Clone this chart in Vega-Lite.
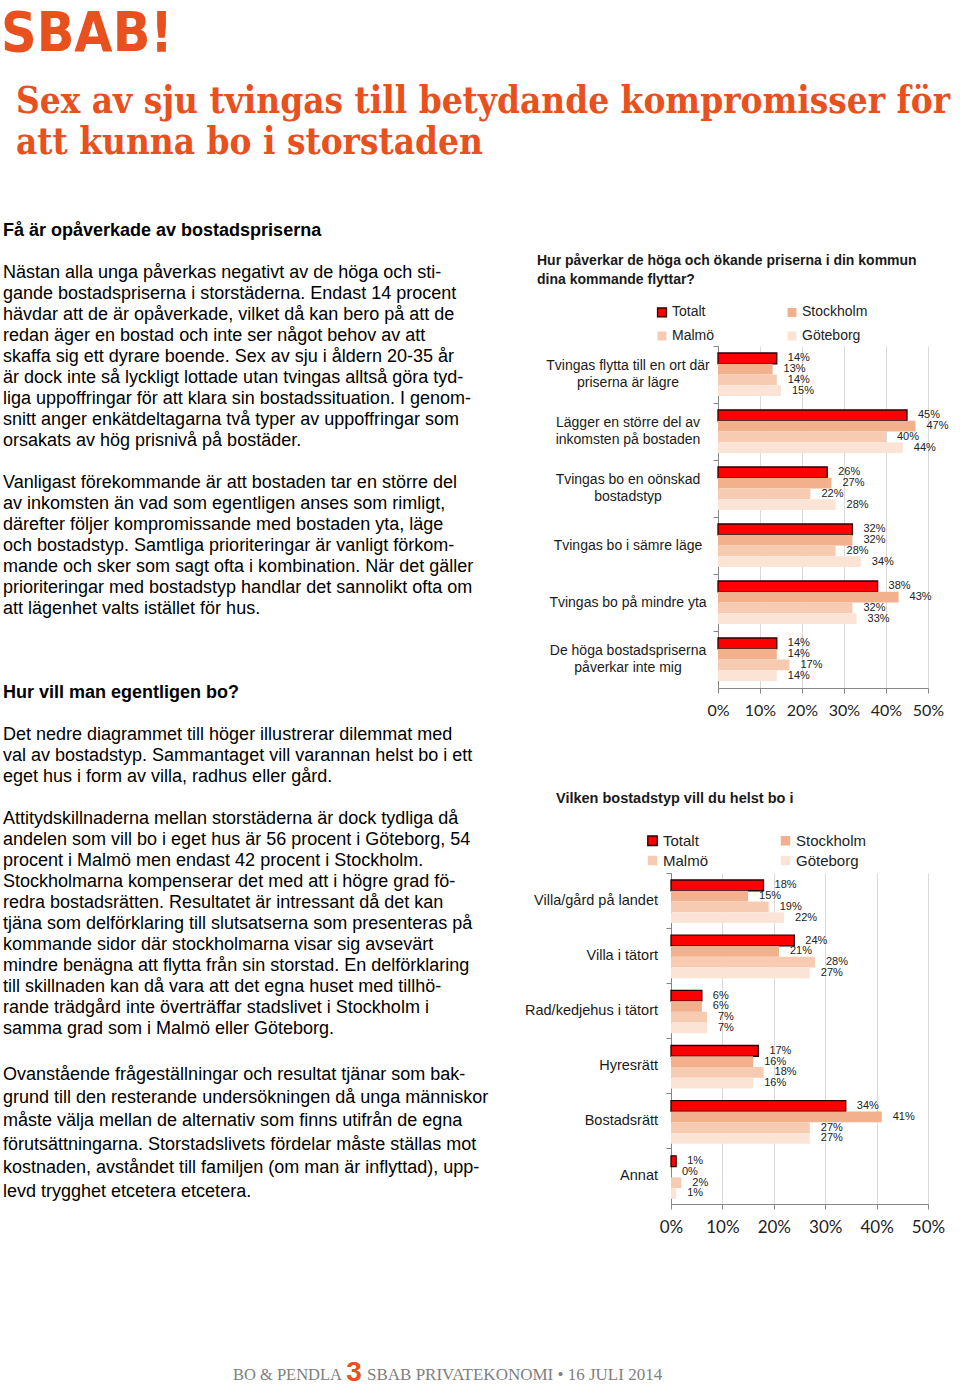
{
  "$schema": "https://vega.github.io/schema/vega-lite/v6.json",
  "background": "white",
  "padding": 0,
  "spacing": 0,
  "columns": 2,
  "align": "none",
  "bounds": "flush",
  "resolve": {"scale": {"color": "independent", "stroke": "independent"}, "legend": {"color": "independent", "stroke": "independent"}},
  "config": {"view": {"stroke": null}, "concat": {"spacing": 0}},
  "datasets": {
    "text": [
      {"line": 1.62, "kind": "logo", "text": "SBAB!"},
      {"line": 4.86, "kind": "rubrik", "text": "Sex av sju tvingas till betydande kompromisser för"},
      {"line": 6.81, "kind": "rubrik", "text": "att kunna bo i storstaden"},
      {"line": 11, "kind": "mellanrubrik", "text": "Få är opåverkade av bostadspriserna"},
      {"line": 13, "kind": "brodtext", "text": "Nästan alla unga påverkas negativt av de höga och sti-"},
      {"line": 14, "kind": "brodtext", "text": "gande bostadspriserna i storstäderna. Endast 14 procent"},
      {"line": 15, "kind": "brodtext", "text": "hävdar att de är opåverkade, vilket då kan bero på att de"},
      {"line": 16, "kind": "brodtext", "text": "redan äger en bostad och inte ser något behov av att"},
      {"line": 17, "kind": "brodtext", "text": "skaffa sig ett dyrare boende. Sex av sju i åldern 20-35 år"},
      {"line": 18, "kind": "brodtext", "text": "är dock inte så lyckligt lottade utan tvingas alltså göra tyd-"},
      {"line": 19, "kind": "brodtext", "text": "liga uppoffringar för att klara sin bostadssituation. I genom-"},
      {"line": 20, "kind": "brodtext", "text": "snitt anger enkätdeltagarna två typer av uppoffringar som"},
      {"line": 21, "kind": "brodtext", "text": "orsakats av hög prisnivå på bostäder."},
      {"line": 23, "kind": "brodtext", "text": "Vanligast förekommande är att bostaden tar en större del"},
      {"line": 24, "kind": "brodtext", "text": "av inkomsten än vad som egentligen anses som rimligt,"},
      {"line": 25, "kind": "brodtext", "text": "därefter följer kompromissande med bostaden yta, läge"},
      {"line": 26, "kind": "brodtext", "text": "och bostadstyp. Samtliga prioriteringar är vanligt förkom-"},
      {"line": 27, "kind": "brodtext", "text": "mande och sker som sagt ofta i kombination. När det gäller"},
      {"line": 28, "kind": "brodtext", "text": "prioriteringar med bostadstyp handlar det sannolikt ofta om"},
      {"line": 29, "kind": "brodtext", "text": "att lägenhet valts istället för hus."},
      {"line": 33, "kind": "mellanrubrik", "text": "Hur vill man egentligen bo?"},
      {"line": 35, "kind": "brodtext", "text": "Det nedre diagrammet till höger illustrerar dilemmat med"},
      {"line": 36, "kind": "brodtext", "text": "val av bostadstyp. Sammantaget vill varannan helst bo i ett"},
      {"line": 37, "kind": "brodtext", "text": "eget hus i form av villa, radhus eller gård."},
      {"line": 39, "kind": "brodtext", "text": "Attitydskillnaderna mellan storstäderna är dock tydliga då"},
      {"line": 40, "kind": "brodtext", "text": "andelen som vill bo i eget hus är 56 procent i Göteborg, 54"},
      {"line": 41, "kind": "brodtext", "text": "procent i Malmö men endast 42 procent i Stockholm."},
      {"line": 42, "kind": "brodtext", "text": "Stockholmarna kompenserar det med att i högre grad fö-"},
      {"line": 43, "kind": "brodtext", "text": "redra bostadsrätten. Resultatet är intressant då det kan"},
      {"line": 44, "kind": "brodtext", "text": "tjäna som delförklaring till slutsatserna som presenteras på"},
      {"line": 45, "kind": "brodtext", "text": "kommande sidor där stockholmarna visar sig avsevärt"},
      {"line": 46, "kind": "brodtext", "text": "mindre benägna att flytta från sin storstad. En delförklaring"},
      {"line": 47, "kind": "brodtext", "text": "till skillnaden kan då vara att det egna huset med tillhö-"},
      {"line": 48, "kind": "brodtext", "text": "rande trädgård inte överträffar stadslivet i Stockholm i"},
      {"line": 49, "kind": "brodtext", "text": "samma grad som i Malmö eller Göteborg."},
      {"line": 51.2, "kind": "brodtext", "text": "Ovanstående frågeställningar och resultat tjänar som bak-"},
      {"line": 52.3, "kind": "brodtext", "text": "grund till den resterande undersökningen då unga människor"},
      {"line": 53.4, "kind": "brodtext", "text": "måste välja mellan de alternativ som finns utifrån de egna"},
      {"line": 54.5, "kind": "brodtext", "text": "förutsättningarna. Storstadslivets fördelar måste ställas mot"},
      {"line": 55.6, "kind": "brodtext", "text": "kostnaden, avståndet till familjen (om man är inflyttad), upp-"},
      {"line": 56.75, "kind": "brodtext", "text": "levd trygghet etcetera etcetera."},
      {"line": 65.48, "kind": "sidfot_a", "text": "BO & PENDLA"},
      {"line": 65.38, "kind": "sidfot_nr", "text": "3"},
      {"line": 65.48, "kind": "sidfot_b", "text": "SBAB PRIVATEKONOMI • 16 JULI 2014"}
    ],
    "prices": [
      {"fraga": "Tvingas flytta till en ort där\npriserna är lägre", "stad": "Totalt", "andel": 0.14},
      {"fraga": "Tvingas flytta till en ort där\npriserna är lägre", "stad": "Stockholm", "andel": 0.13},
      {"fraga": "Tvingas flytta till en ort där\npriserna är lägre", "stad": "Malmö", "andel": 0.14},
      {"fraga": "Tvingas flytta till en ort där\npriserna är lägre", "stad": "Göteborg", "andel": 0.15},
      {"fraga": "Lägger en större del av\ninkomsten på bostaden", "stad": "Totalt", "andel": 0.45},
      {"fraga": "Lägger en större del av\ninkomsten på bostaden", "stad": "Stockholm", "andel": 0.47},
      {"fraga": "Lägger en större del av\ninkomsten på bostaden", "stad": "Malmö", "andel": 0.40},
      {"fraga": "Lägger en större del av\ninkomsten på bostaden", "stad": "Göteborg", "andel": 0.44},
      {"fraga": "Tvingas bo en oönskad\nbostadstyp", "stad": "Totalt", "andel": 0.26},
      {"fraga": "Tvingas bo en oönskad\nbostadstyp", "stad": "Stockholm", "andel": 0.27},
      {"fraga": "Tvingas bo en oönskad\nbostadstyp", "stad": "Malmö", "andel": 0.22},
      {"fraga": "Tvingas bo en oönskad\nbostadstyp", "stad": "Göteborg", "andel": 0.28},
      {"fraga": "Tvingas bo i sämre läge", "stad": "Totalt", "andel": 0.32},
      {"fraga": "Tvingas bo i sämre läge", "stad": "Stockholm", "andel": 0.32},
      {"fraga": "Tvingas bo i sämre läge", "stad": "Malmö", "andel": 0.28},
      {"fraga": "Tvingas bo i sämre läge", "stad": "Göteborg", "andel": 0.34},
      {"fraga": "Tvingas bo på mindre yta", "stad": "Totalt", "andel": 0.38},
      {"fraga": "Tvingas bo på mindre yta", "stad": "Stockholm", "andel": 0.43},
      {"fraga": "Tvingas bo på mindre yta", "stad": "Malmö", "andel": 0.32},
      {"fraga": "Tvingas bo på mindre yta", "stad": "Göteborg", "andel": 0.33},
      {"fraga": "De höga bostadspriserna\npåverkar inte mig", "stad": "Totalt", "andel": 0.14},
      {"fraga": "De höga bostadspriserna\npåverkar inte mig", "stad": "Stockholm", "andel": 0.14},
      {"fraga": "De höga bostadspriserna\npåverkar inte mig", "stad": "Malmö", "andel": 0.17},
      {"fraga": "De höga bostadspriserna\npåverkar inte mig", "stad": "Göteborg", "andel": 0.14}
    ],
    "types": [
      {"typ": "Villa/gård på landet", "stad": "Totalt", "andel": 0.18},
      {"typ": "Villa/gård på landet", "stad": "Stockholm", "andel": 0.15},
      {"typ": "Villa/gård på landet", "stad": "Malmö", "andel": 0.19},
      {"typ": "Villa/gård på landet", "stad": "Göteborg", "andel": 0.22},
      {"typ": "Villa i tätort", "stad": "Totalt", "andel": 0.24},
      {"typ": "Villa i tätort", "stad": "Stockholm", "andel": 0.21},
      {"typ": "Villa i tätort", "stad": "Malmö", "andel": 0.28},
      {"typ": "Villa i tätort", "stad": "Göteborg", "andel": 0.27},
      {"typ": "Rad/kedjehus i tätort", "stad": "Totalt", "andel": 0.06},
      {"typ": "Rad/kedjehus i tätort", "stad": "Stockholm", "andel": 0.06},
      {"typ": "Rad/kedjehus i tätort", "stad": "Malmö", "andel": 0.07},
      {"typ": "Rad/kedjehus i tätort", "stad": "Göteborg", "andel": 0.07},
      {"typ": "Hyresrätt", "stad": "Totalt", "andel": 0.17},
      {"typ": "Hyresrätt", "stad": "Stockholm", "andel": 0.16},
      {"typ": "Hyresrätt", "stad": "Malmö", "andel": 0.18},
      {"typ": "Hyresrätt", "stad": "Göteborg", "andel": 0.16},
      {"typ": "Bostadsrätt", "stad": "Totalt", "andel": 0.34},
      {"typ": "Bostadsrätt", "stad": "Stockholm", "andel": 0.41},
      {"typ": "Bostadsrätt", "stad": "Malmö", "andel": 0.27},
      {"typ": "Bostadsrätt", "stad": "Göteborg", "andel": 0.27},
      {"typ": "Annat", "stad": "Totalt", "andel": 0.01},
      {"typ": "Annat", "stad": "Stockholm", "andel": 0.0},
      {"typ": "Annat", "stad": "Malmö", "andel": 0.02},
      {"typ": "Annat", "stad": "Göteborg", "andel": 0.01}
    ]
  },
  "concat": [
    {
      "width": 671,
      "height": 346,
      "data": {"name": "text"},
      "transform": [{"filter": "datum.line < 16.476"}],
      "encoding": {
        "y": {"field": "line", "type": "quantitative", "scale": {"domain": [0, 16.476], "reverse": true, "zero": false, "nice": false}, "axis": null},
        "text": {"field": "text"}
      },
      "layer": [
        {
          "transform": [{"filter": "datum.kind === 'logo'"}],
          "mark": {"type": "text", "align": "left", "baseline": "middle", "font": "DejaVu Sans Condensed", "fontWeight": "bold", "fontSize": 55, "color": "#E8501E"},
          "encoding": {"x": {"value": 1}}
        },
        {
          "transform": [{"filter": "datum.kind === 'rubrik'"}],
          "mark": {"type": "text", "align": "left", "baseline": "middle", "font": "DejaVu Serif Condensed", "fontWeight": "bold", "fontSize": 36.6, "color": "#E8501E"},
          "encoding": {"x": {"value": 16}}
        },
        {
          "transform": [{"filter": "datum.kind === 'mellanrubrik'"}],
          "mark": {"type": "text", "align": "left", "baseline": "middle", "font": "Liberation Sans", "fontWeight": "bold", "fontSize": 18, "color": "#000000"},
          "encoding": {"x": {"value": 3}}
        },
        {
          "transform": [{"filter": "datum.kind === 'brodtext'"}],
          "mark": {"type": "text", "align": "left", "baseline": "middle", "font": "Liberation Sans", "fontSize": 18, "color": "#000000"},
          "encoding": {"x": {"value": 3}}
        }
      ]
    },
    {
      "width": 257,
      "height": 346,
      "data": {"values": []},
      "mark": "point"
    },
    {
      "width": 671,
      "height": 342,
      "data": {"name": "text"},
      "transform": [{"filter": "datum.line >= 16.476 && datum.line < 32.762"}],
      "encoding": {
        "y": {"field": "line", "type": "quantitative", "scale": {"domain": [16.476, 32.762], "reverse": true, "zero": false, "nice": false}, "axis": null},
        "text": {"field": "text"}
      },
      "layer": [
        {
          "transform": [{"filter": "datum.kind === 'brodtext'"}],
          "mark": {"type": "text", "align": "left", "baseline": "middle", "font": "Liberation Sans", "fontSize": 18, "color": "#000000"},
          "encoding": {"x": {"value": 3}}
        }
      ]
    },
    {
      "width": 257,
      "height": 342,
      "data": {"name": "prices"},
      "title": {"text": ["Hur påverkar de höga och ökande priserna i din kommun", "dina kommande flyttar?"], "anchor": "start", "frame": "group", "dx": -134, "fontSize": 14, "font": "Liberation Sans", "fontWeight": "bold", "color": "#1a1a1a", "lineHeight": 19, "offset": 18},
      "layer": [
        {
          "mark": {"type": "bar", "strokeWidth": 1.3},
          "encoding": {
            "y": {"field": "fraga", "type": "nominal", "sort": null, "scale": {"paddingInner": 0, "paddingOuter": 0},
              "axis": {"title": null, "labels": false, "offset": -47, "bandPosition": 0, "tickSize": 5, "domainColor": "#868686", "tickColor": "#868686"}},
            "yOffset": {"field": "stad", "type": "nominal", "sort": ["Totalt", "Stockholm", "Malmö", "Göteborg"], "scale": {"paddingInner": 0, "paddingOuter": 0.65}},
            "x": {"field": "andel", "type": "quantitative", "scale": {"domain": [0, 0.5], "range": [47, 257], "nice": false},
              "axis": {"title": null, "values": [0, 0.1, 0.2, 0.3, 0.4, 0.5], "format": ".0%", "labelOverlap": false, "labelFlush": false, "grid": true, "gridColor": "#d9d9d9", "domainColor": "#868686", "tickColor": "#868686", "tickSize": 5, "labelFontSize": 16, "labelFont": "Lato", "labelColor": "#222222", "labelPadding": 9}},
            "color": {"field": "stad", "type": "nominal", "sort": ["Totalt", "Stockholm", "Malmö", "Göteborg"],
              "scale": {"domain": ["Totalt", "Stockholm", "Malmö", "Göteborg"], "range": ["#FF0000", "#F2B18C", "#F7CBB1", "#FBE4D6"]},
              "legend": {"title": null, "orient": "none", "legendX": -16, "legendY": -41, "columns": 2, "direction": "horizontal", "symbolType": "square", "symbolSize": 80, "symbolStrokeWidth": 1.3, "labelFontSize": 14, "labelFont": "Liberation Sans", "labelColor": "#222222", "columnPadding": 69, "rowPadding": 8, "labelOffset": 3}},
            "stroke": {"field": "stad", "type": "nominal", "sort": ["Totalt", "Stockholm", "Malmö", "Göteborg"],
              "scale": {"domain": ["Totalt", "Stockholm", "Malmö", "Göteborg"], "range": ["#2a0000", "transparent", "transparent", "transparent"]}}
          }
        },
        {
          "mark": {"type": "text", "align": "left", "baseline": "middle", "dx": 11, "fontSize": 11, "font": "Liberation Sans", "color": "#222222"},
          "encoding": {
            "y": {"field": "fraga", "type": "nominal", "sort": null},
            "yOffset": {"field": "stad", "type": "nominal", "sort": ["Totalt", "Stockholm", "Malmö", "Göteborg"]},
            "x": {"field": "andel", "type": "quantitative"},
            "text": {"field": "andel", "type": "quantitative", "format": ".0%"}
          }
        },
        {
          "transform": [{"filter": "datum.stad === 'Totalt' && indexof(datum.fraga, '\\n') >= 0"}],
          "mark": {"type": "text", "align": "center", "baseline": "middle", "dx": -90, "dy": -8.5, "fontSize": 14, "font": "Liberation Sans", "color": "#1a1a1a", "lineBreak": "\n", "lineHeight": 17},
          "encoding": {
            "y": {"field": "fraga", "type": "nominal", "sort": null},
            "x": {"datum": 0},
            "text": {"field": "fraga"}
          }
        },
        {
          "transform": [{"filter": "datum.stad === 'Totalt' && indexof(datum.fraga, '\\n') < 0"}],
          "mark": {"type": "text", "align": "center", "baseline": "middle", "dx": -90, "fontSize": 14, "font": "Liberation Sans", "color": "#1a1a1a"},
          "encoding": {
            "y": {"field": "fraga", "type": "nominal", "sort": null},
            "x": {"datum": 0},
            "text": {"field": "fraga"}
          }
        }
      ]
    },
    {
      "width": 671,
      "height": 185,
      "data": {"name": "text"},
      "transform": [{"filter": "datum.line >= 32.762 && datum.line < 41.571"}],
      "encoding": {
        "y": {"field": "line", "type": "quantitative", "scale": {"domain": [32.762, 41.571], "reverse": true, "zero": false, "nice": false}, "axis": null},
        "text": {"field": "text"}
      },
      "layer": [
        {
          "transform": [{"filter": "datum.kind === 'mellanrubrik'"}],
          "mark": {"type": "text", "align": "left", "baseline": "middle", "font": "Liberation Sans", "fontWeight": "bold", "fontSize": 18, "color": "#000000"},
          "encoding": {"x": {"value": 3}}
        },
        {
          "transform": [{"filter": "datum.kind === 'brodtext'"}],
          "mark": {"type": "text", "align": "left", "baseline": "middle", "font": "Liberation Sans", "fontSize": 18, "color": "#000000"},
          "encoding": {"x": {"value": 3}}
        }
      ]
    },
    {
      "width": 257,
      "height": 185,
      "data": {"values": []},
      "mark": "point"
    },
    {
      "width": 671,
      "height": 514,
      "data": {"name": "text"},
      "transform": [{"filter": "datum.line >= 41.571"}],
      "encoding": {
        "y": {"field": "line", "type": "quantitative", "scale": {"domain": [41.571, 66.048], "reverse": true, "zero": false, "nice": false}, "axis": null},
        "text": {"field": "text"}
      },
      "layer": [
        {
          "transform": [{"filter": "datum.kind === 'brodtext'"}],
          "mark": {"type": "text", "align": "left", "baseline": "middle", "font": "Liberation Sans", "fontSize": 18, "color": "#000000"},
          "encoding": {"x": {"value": 3}}
        },
        {
          "transform": [{"filter": "datum.kind === 'sidfot_a'"}],
          "mark": {"type": "text", "align": "right", "baseline": "middle", "font": "Liberation Serif", "fontSize": 16.5, "color": "#808080"},
          "encoding": {"x": {"value": 342}}
        },
        {
          "transform": [{"filter": "datum.kind === 'sidfot_nr'"}],
          "mark": {"type": "text", "align": "center", "baseline": "middle", "font": "Liberation Sans", "fontWeight": "bold", "fontSize": 28, "color": "#E8501E"},
          "encoding": {"x": {"value": 354}}
        },
        {
          "transform": [{"filter": "datum.kind === 'sidfot_b'"}],
          "mark": {"type": "text", "align": "left", "baseline": "middle", "font": "Liberation Serif", "fontSize": 17, "color": "#808080"},
          "encoding": {"x": {"value": 367}}
        }
      ]
    },
    {
      "width": 257,
      "height": 331,
      "data": {"name": "types"},
      "title": {"text": "Vilken bostadstyp vill du helst bo i", "anchor": "start", "frame": "group", "dx": -115, "fontSize": 14.5, "font": "Liberation Sans", "fontWeight": "bold", "color": "#1a1a1a", "offset": 27},
      "layer": [
        {
          "mark": {"type": "bar", "strokeWidth": 1.3},
          "encoding": {
            "y": {"field": "typ", "type": "nominal", "sort": null, "scale": {"paddingInner": 0, "paddingOuter": 0},
              "axis": {"title": null, "labels": false, "bandPosition": 0, "tickSize": 5, "domainColor": "#868686", "tickColor": "#868686"}},
            "yOffset": {"field": "stad", "type": "nominal", "sort": ["Totalt", "Stockholm", "Malmö", "Göteborg"], "scale": {"paddingInner": 0, "paddingOuter": 0.69}},
            "x": {"field": "andel", "type": "quantitative", "scale": {"domain": [0, 0.5], "nice": false},
              "axis": {"title": null, "values": [0, 0.1, 0.2, 0.3, 0.4, 0.5], "format": ".0%", "labelOverlap": false, "labelFlush": false, "grid": true, "gridColor": "#d9d9d9", "domainColor": "#868686", "tickColor": "#868686", "tickSize": 5, "labelFontSize": 17, "labelFont": "Lato", "labelColor": "#222222", "labelPadding": 10}},
            "color": {"field": "stad", "type": "nominal", "sort": ["Totalt", "Stockholm", "Malmö", "Göteborg"],
              "scale": {"domain": ["Totalt", "Stockholm", "Malmö", "Göteborg"], "range": ["#FF0000", "#F2B18C", "#F7CBB1", "#FBE4D6"]},
              "legend": {"title": null, "orient": "none", "legendX": -26, "legendY": -40, "columns": 2, "direction": "horizontal", "symbolType": "square", "symbolSize": 90, "symbolStrokeWidth": 1.3, "labelFontSize": 15, "labelFont": "Liberation Sans", "labelColor": "#222222", "columnPadding": 69, "rowPadding": 4, "labelOffset": 3}},
            "stroke": {"field": "stad", "type": "nominal", "sort": ["Totalt", "Stockholm", "Malmö", "Göteborg"],
              "scale": {"domain": ["Totalt", "Stockholm", "Malmö", "Göteborg"], "range": ["#2a0000", "transparent", "transparent", "transparent"]}}
          }
        },
        {
          "mark": {"type": "text", "align": "left", "baseline": "middle", "dx": 11, "fontSize": 11, "font": "Liberation Sans", "color": "#222222"},
          "encoding": {
            "y": {"field": "typ", "type": "nominal", "sort": null},
            "yOffset": {"field": "stad", "type": "nominal", "sort": ["Totalt", "Stockholm", "Malmö", "Göteborg"]},
            "x": {"field": "andel", "type": "quantitative"},
            "text": {"field": "andel", "type": "quantitative", "format": ".0%"}
          }
        },
        {
          "transform": [{"filter": "datum.stad === 'Totalt'"}],
          "mark": {"type": "text", "align": "right", "baseline": "middle", "dx": -13, "fontSize": 14.5, "font": "Liberation Sans", "color": "#1a1a1a"},
          "encoding": {
            "y": {"field": "typ", "type": "nominal", "sort": null},
            "x": {"datum": 0},
            "text": {"field": "typ"}
          }
        }
      ]
    }
  ]
}
